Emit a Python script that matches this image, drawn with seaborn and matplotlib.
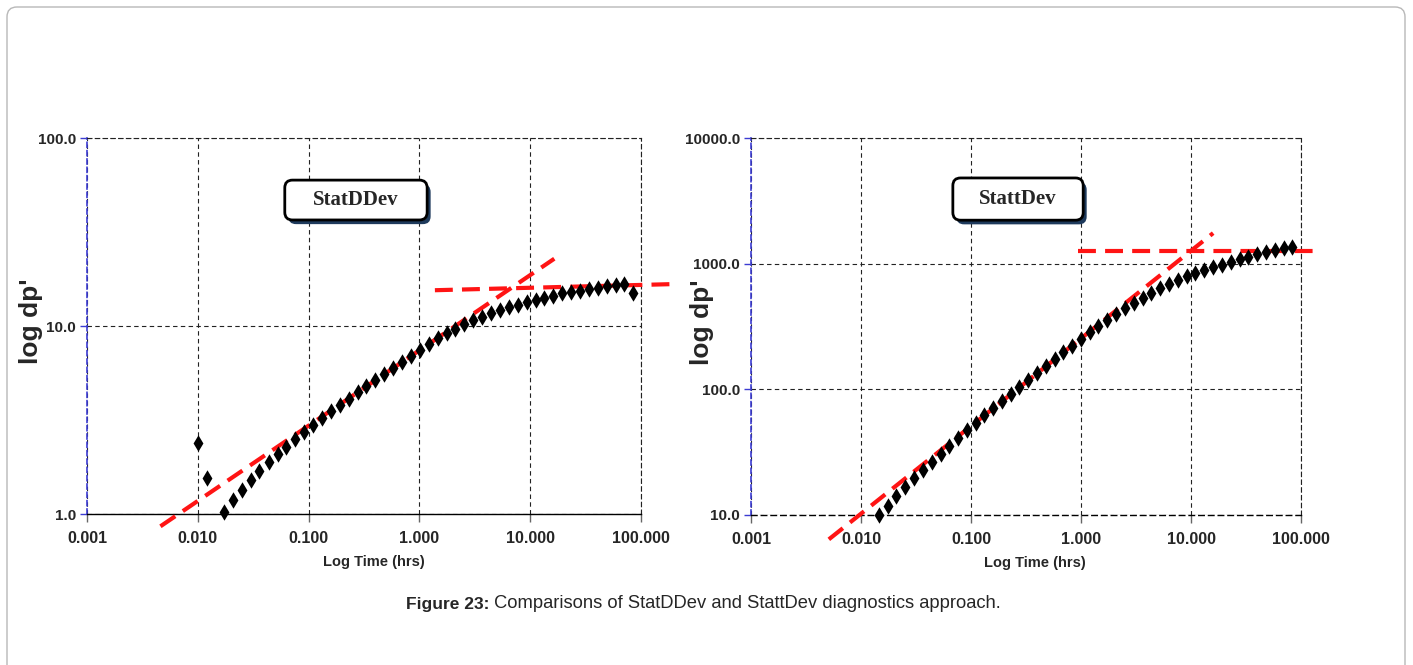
import matplotlib
matplotlib.use("Agg")
import matplotlib.pyplot as plt
import seaborn as sns
import pandas as pd
from matplotlib.patches import FancyBboxPatch
from matplotlib.ticker import NullLocator
from matplotlib import patheffects as pe

# ---- StatDDev derivative data (time in hrs, dp') ----
statd_time = [0.0100, 0.0120, 0.0174, 0.0207, 0.0250, 0.0300, 0.0360, 0.0435, 0.0524, 0.0630,
              0.0759, 0.0910, 0.110, 0.132, 0.159, 0.191, 0.230, 0.277, 0.333, 0.400,
              0.482, 0.580, 0.697, 0.839, 1.01, 1.21, 1.46, 1.76, 2.11, 2.55,
              3.06, 3.68, 4.43, 5.33, 6.41, 7.72, 9.29, 11.2, 13.4, 16.2,
              19.5, 23.4, 28.2, 33.9, 40.8, 49.1, 59.0, 69.7, 83.9]
statd_dp = [2.40, 1.55, 1.03, 1.18, 1.34, 1.51, 1.69, 1.88, 2.08, 2.28,
            2.51, 2.74, 2.99, 3.24, 3.51, 3.81, 4.10, 4.43, 4.77, 5.16,
            5.55, 5.95, 6.41, 6.93, 7.46, 8.03, 8.61, 9.16, 9.66, 10.2,
            10.7, 11.2, 11.7, 12.2, 12.6, 13.0, 13.4, 13.7, 14.1, 14.5,
            14.9, 15.2, 15.4, 15.7, 15.9, 16.3, 16.5, 16.7, 14.9]

# ---- StattDev derivative data ----
statt_time = [0.0145, 0.0175, 0.0210, 0.0253, 0.0305, 0.0365, 0.0440, 0.0530, 0.0635, 0.0766,
              0.0918, 0.110, 0.132, 0.160, 0.191, 0.229, 0.276, 0.330, 0.398, 0.477,
              0.575, 0.689, 0.831, 0.995, 1.20, 1.44, 1.73, 2.08, 2.51, 3.01,
              3.63, 4.34, 5.24, 6.31, 7.56, 9.12, 10.9, 13.1, 15.8, 19.0,
              23.0, 27.7, 33.1, 39.7, 47.8, 57.6, 69.5, 83.7]
statt_dp = [10.0, 11.9, 14.1, 16.8, 19.6, 22.9, 26.5, 30.6, 35.6, 41.1,
            47.2, 54.4, 62.8, 70.9, 80.6, 92.4, 105, 119, 135, 154,
            174, 197, 222, 251, 284, 321, 358, 398, 442, 485,
            535, 583, 639, 688, 741, 791, 836, 884, 934, 982,
            1032, 1082, 1137, 1196, 1247, 1294, 1336, 1350]

# ---- diagnostic straight-line fits (end points) ----
statd_slope_t, statd_slope_dp = [0.0046, 16.5], [0.86, 22.8]
statd_flat_t, statd_flat_dp = [1.38, 190.0], [15.5, 16.7]
statt_slope_t, statt_slope_dp = [0.0051, 15.9], [6.4, 1750.0]
statt_flat_t, statt_flat_dp = [0.93, 134.0], [1265.0, 1265.0]

# ---- axis ticks / labels ----
x_ticks = [0.001, 0.01, 0.1, 1, 10, 100]
x_labels = ["0.001", "0.010", "0.100", "1.000", "10.000", "100.000"]
statd_yticks = [1, 10, 100]
statd_ylabels = ["1.0", "10.0", "100.0"]
statt_yticks = [10, 100, 1000, 10000]
statt_ylabels = ["10.0", "100.0", "1000.0", "10000.0"]

sns.set_style("white")
plt.rcParams["font.family"] = ["Liberation Sans", "DejaVu Sans"]

W, H = 1413, 665
fig = plt.figure(figsize=(W / 100, H / 100), dpi=100)
fig.patch.set_facecolor("white")

# page frame
frame = FancyBboxPatch((7 / W, -0.05), 1398 / W, 658 / H + 0.05,
                       boxstyle="round,pad=0,rounding_size=0.007",
                       mutation_aspect=W / H, transform=fig.transFigure,
                       fc="none", ec="#b8b8b8", lw=1.0)
fig.add_artist(frame)

ax1 = fig.add_axes([87 / W, 1 - 514 / H, 554 / W, 376 / H])
ax2 = fig.add_axes([751 / W, 1 - 515 / H, 550 / W, 377 / H])

BLUE = "#3c3cd2"
RED = "#ff1414"
GRID_LS = (0, (4, 3))


def style_axes(ax, yticks, ylabels, ylim, box_text, box_x, box_y, dashed_bottom):
    ax.set_xscale("log")
    ax.set_yscale("log")
    ax.set_xlim(0.001, 100)
    ax.set_ylim(*ylim)
    ax.set_xticks(x_ticks)
    ax.set_xticklabels(x_labels)
    ax.set_yticks(yticks)
    ax.set_yticklabels(ylabels)
    ax.xaxis.set_minor_locator(NullLocator())
    ax.yaxis.set_minor_locator(NullLocator())
    ax.grid(True, which="major", color="#222222", linestyle=GRID_LS, lw=0.8)
    ax.set_axisbelow(True)

    for side in ("top", "right"):
        ax.spines[side].set_linestyle(GRID_LS)
        ax.spines[side].set_linewidth(0.8)
        ax.spines[side].set_color("#222222")
    ax.spines["left"].set_color(BLUE)
    ax.spines["left"].set_linestyle((0, (3, 2)))
    ax.spines["left"].set_linewidth(1.2)
    ax.spines["bottom"].set_color("black")
    ax.spines["bottom"].set_linewidth(1.0)
    if dashed_bottom:
        ax.spines["bottom"].set_linestyle(GRID_LS)

    ax.tick_params(axis="x", which="major", direction="out", length=6, width=1,
                   color="#666666", pad=6, labelsize=11.5, bottom=True)
    ax.tick_params(axis="y", which="major", direction="out", length=5, width=1,
                   color=BLUE, pad=3, labelsize=11, left=True)
    for lab in ax.get_xticklabels() + ax.get_yticklabels():
        lab.set_fontweight("bold")

    # title box with drop shadow
    x0, x1 = box_x
    y0, y1 = box_y
    aspect = (ax.bbox.width / ax.bbox.height)
    box = FancyBboxPatch((x0, y0), x1 - x0, y1 - y0,
                         boxstyle="round,pad=0,rounding_size=0.014",
                         mutation_aspect=aspect, transform=ax.transAxes,
                         fc="white", ec="black", lw=2.0, zorder=6, clip_on=False)
    box.set_path_effects([pe.SimplePatchShadow(offset=(2.5, -3), shadow_rgbFace="#1e3a5c", alpha=1.0),
                          pe.Normal()])
    ax.add_patch(box)
    ax.text((x0 + x1) / 2, (y0 + y1) / 2, box_text, transform=ax.transAxes,
            ha="center", va="center", fontsize=15, fontweight="bold",
            family=["Liberation Serif", "DejaVu Serif"], zorder=7)


style_axes(ax1, statd_yticks, statd_ylabels, (1, 100), "StatDDev",
           (0.357, 0.614), (0.782, 0.888), dashed_bottom=False)
style_axes(ax2, statt_yticks, statt_ylabels, (10, 10000), "StattDev",
           (0.367, 0.604), (0.782, 0.894), dashed_bottom=True)

# fitted diagnostic lines
for ax, (st, sd), (ft, fd) in [(ax1, (statd_slope_t, statd_slope_dp), (statd_flat_t, statd_flat_dp)),
                               (ax2, (statt_slope_t, statt_slope_dp), (statt_flat_t, statt_flat_dp))]:
    for tt, dd in ((st, sd), (ft, fd)):
        ax.plot(tt, dd, color=RED, lw=3.0, linestyle=(0, (4.3, 2.2)),
                clip_on=False, zorder=3, solid_capstyle="butt")

# derivative points
df_d = pd.DataFrame({"time": statd_time, "dp": statd_dp})
df_t = pd.DataFrame({"time": statt_time, "dp": statt_dp})
sns.scatterplot(data=df_d, x="time", y="dp", ax=ax1, marker="d", s=70,
                color="black", linewidth=0, clip_on=False, zorder=4)
sns.scatterplot(data=df_t, x="time", y="dp", ax=ax2, marker="d", s=70,
                color="black", linewidth=0, clip_on=False, zorder=4)

for ax, ylx in ((ax1, -0.080), (ax2, -0.068)):
    ax.set_xlabel("Log Time (hrs)", fontsize=10.5, fontweight="bold")
    ax.set_ylabel("log dp'", fontsize=19, fontweight="bold")
    ax.xaxis.set_label_coords(0.517, -0.108)
    ax.yaxis.set_label_coords(ylx, 0.512)

# caption
fig.text(489 / W, 1 - 604 / H, "Figure 23:", ha="right", va="center",
         fontsize=12.5, fontweight="bold")
fig.text(489 / W, 1 - 604 / H, " Comparisons of StatDDev and StattDev diagnostics approach.",
         ha="left", va="center", fontsize=13.2)

fig.savefig("out.png", dpi=100, facecolor="white")
